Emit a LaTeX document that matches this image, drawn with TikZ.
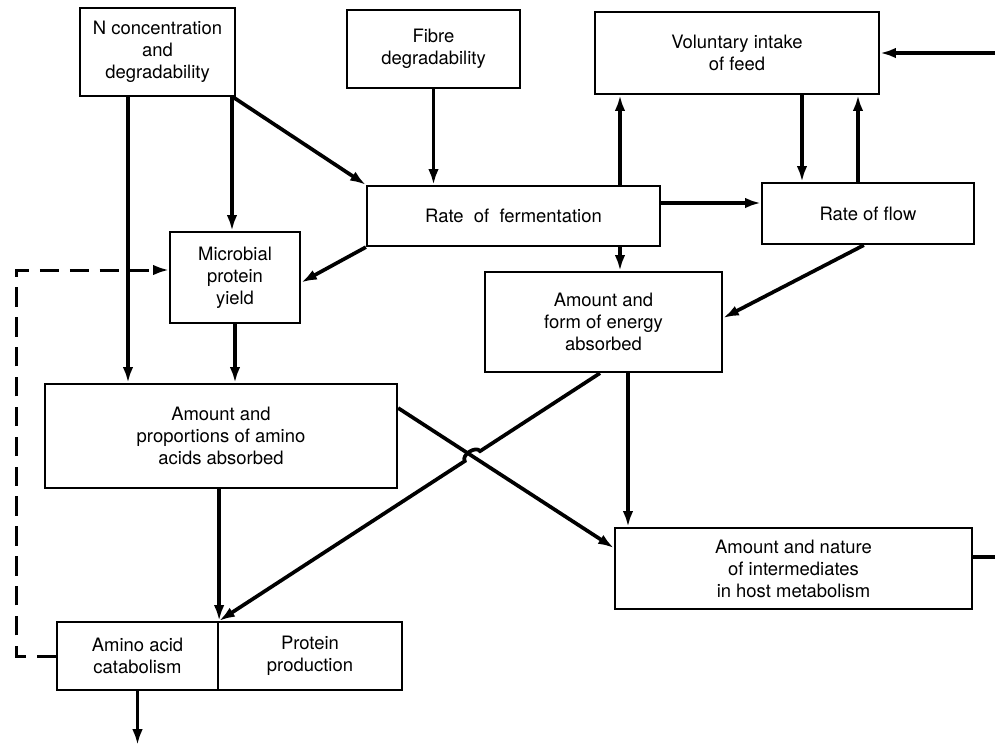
\documentclass[tikz,border=0pt]{standalone}
\usepackage{fontspec}
\setmainfont{TeX Gyre Heros}
\usetikzlibrary{arrows.meta}
\usetikzlibrary{calc}
\tikzset{box/.style={draw=black, line width=1.3pt, align=center, inner sep=2pt,
  font=\fontsize{10.5}{12.5}\selectfont},
%thick lines with a slim filled head
arr/.style={-{Latex[length=9pt,width=6pt]}, line width=2.1pt},
link/.style={line width=2.1pt}}

\begin{document}
\begin{tikzpicture}[x=0.02cm,y=-0.02cm]
\useasboundingbox (0,0) rectangle (995,748);
%\draw [help lines,step=50] (0,0) grid (995,748);

% top row
\node[box, minimum width=3.1cm, minimum height=1.76cm] (ncon) at (157.5,52) {N concentration\\and\\degradability};
\node[box, minimum width=3.46cm, minimum height=1.56cm] (fibre) at (433.5,49) {Fibre\\degradability};
\node[box, minimum width=5.68cm, minimum height=1.64cm] (vol) at (737,53) {Voluntary intake\\of feed};

% middle
\node[box, minimum width=5.86cm, minimum height=1.2cm] (ferm) at (513.5,216) {Rate\ \ of\ \ fermentation};
\node[box, minimum width=4.24cm, minimum height=1.22cm] (flow) at (868,213.5) {Rate of flow};
\node[box, minimum width=2.6cm, minimum height=1.82cm] (micro) at (235,277.5) {Microbial\\protein\\yield};
\node[box, minimum width=4.74cm, minimum height=2.0cm] (energy) at (603.5,322) {Amount and\\form of energy\\absorbed};
\node[box, minimum width=7.04cm, minimum height=2.08cm] (amino) at (221,436) {Amount and\\proportions of amino\\acids absorbed};
\node[box, minimum width=7.14cm, minimum height=1.62cm] (inter) at (793.5,568.5) {Amount and nature\\of intermediates\\in host metabolism};

% bottom pair
\node[box, minimum width=3.22cm, minimum height=1.36cm] (catab) at (137.5,656) {Amino acid\\catabolism};
\node[box, minimum width=3.68cm, minimum height=1.36cm] (prod) at (310,656) {Protein\\production};

\coordinate (volin) at (995,53);
\coordinate (interout) at (995,557);
\coordinate (out) at (137.5,745);

% from N and fibre
\draw[arr] ($(ncon.south)+(-29.5,0)$) coordinate (n1) -- (n1 |- amino.north);
\draw[arr] ($(ncon.south)+(74.5,0)$) coordinate (n2) -- (n2 |- micro.north);
\draw[arr] ($(ncon.south east)+(-3,0)$) -- (ferm.north west);
\draw[arr] (fibre.south) -- (fibre.south |- ferm.north);

% round fermentation and flow
\draw[arr] ($(ferm.north)+(106.5,0)$) coordinate (f1) -- (f1 |- vol.south);
\draw[arr] ($(vol.south)+(65,0)$) coordinate (v1) -- (v1 |- flow.north);
\draw[arr] ($(flow.north)+(-10,0)$) coordinate (r1) -- (r1 |- vol.south);
\draw[arr] ($(ferm.east)+(0,-13)$) coordinate (f2) -- (f2 -| flow.west);
\draw[arr] ($(ferm.south)+(106.5,0)$) coordinate (f3) -- (f3 |- energy.north);
\draw[arr] (ferm.south west) -- ($(micro.east)+(0,5)$);
\draw[arr] ($(flow.south west)+(103,0)$) -- ($(energy.east)+(0,-4)$);
\draw[arr] (volin) -- (vol.east);

% down to absorption
\draw[arr] (micro.south) -- (micro.south |- amino.north);
\draw[arr] ($(energy.south)+(24.5,0)$) coordinate (e1) -- (e1 |- inter.north);
\draw[arr] ($(amino.east)+(0,-28)$) -- ($(inter.west)+(0,-20.5)$);
\draw[link] (interout -| inter.east) -- (interout);

% energy line hops over the amino acid line
\draw[arr] ($(energy.south)+(-3.5,0)$) coordinate (e2)
  -- ($(e2)!0.315!(catab.north east)$) to[bend right=90] ($(e2)!0.355!(catab.north east)$)
  -- (catab.north east);
\draw[arr] (amino.south -| catab.north east) -- (catab.north east);

% outputs
\draw[arr] (catab.south) -- (out);
\draw[arr, line width=1.7pt, dash pattern=on 11pt off 6pt] (catab.west) -- ++(-39,0) |- ($(micro.west)+(0,-7.5)$);

\end{tikzpicture}
\end{document}
